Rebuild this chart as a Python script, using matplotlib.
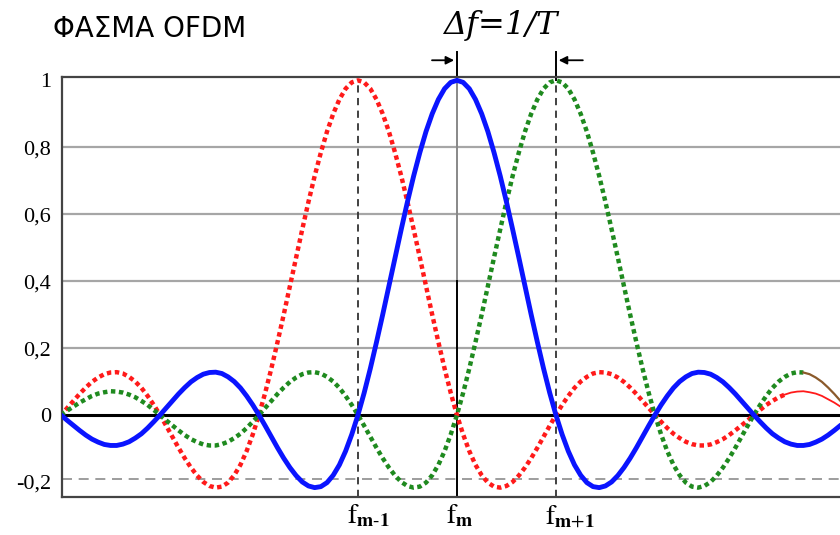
import matplotlib
matplotlib.use("Agg")
import matplotlib.pyplot as plt
import numpy as np

# === DATA ===
# pulse shape of one sub-carrier, sampled every 1/16 of the carrier spacing,
# from the centre outwards (it is symmetric)
pulse_half = [1.000, 0.994, 0.975, 0.943, 0.900, 0.847, 0.784, 0.714,
              0.637, 0.555, 0.471, 0.385, 0.300, 0.218, 0.139, 0.066,
              0.000, -0.058, -0.108, -0.149, -0.180, -0.202, -0.214, -0.217,
              -0.212, -0.200, -0.181, -0.157, -0.129, -0.098, -0.065, -0.032,
              0.000, 0.030, 0.057, 0.081, 0.100, 0.114, 0.124, 0.128,
              0.127, 0.122, 0.112, 0.099, 0.082, 0.063, 0.042, 0.021,
              0.000, -0.020, -0.039, -0.056, -0.069, -0.080, -0.087, -0.091,
              -0.091, -0.088, -0.081, -0.072, -0.060, -0.046, -0.031, -0.016,
              0.000, 0.015, 0.030, 0.042, 0.053, 0.061, 0.067, 0.070,
              0.071, 0.068, 0.064, 0.057, 0.047, 0.037, 0.025, 0.013, 0.000]
pulse = np.array(pulse_half[:0:-1] + pulse_half)
offsets = np.arange(-80, 81) / 16.0

carriers = [-1, 0, 1]          # f(m-1), f(m), f(m+1)
carrier_labels = [r"$\mathrm{f}_{\mathbf{m\text{-}1}}$", r"$\mathrm{f}_{\mathbf{m}}$",
                  r"$\mathrm{f}_{\mathbf{m\text{+}1}}$"]
ytick_vals = [1, 0.8, 0.6, 0.4, 0.2, 0, -0.2]
ytick_labels = ["1", "0,8", "0,6", "0,4", "0,2", "0", "-0,2"]
grid_vals = [0.2, 0.4, 0.6, 0.8]
floor_line = -0.19

plt.rcParams["mathtext.fontset"] = "stix"

fig = plt.figure(figsize=(8.4, 5.35), dpi=100)
ax = fig.add_axes([62 / 840, 38 / 535, 778 / 840, 420 / 535])
ax.set_xlim(-3.99, 3.87)
ax.set_ylim(-0.245, 1.01)

# grid lines
for g in grid_vals:
    ax.axhline(g, color="#a6a6a6", lw=1.6, zorder=1)
ax.axhline(0, color="black", lw=2.2, zorder=2)
ax.axhline(floor_line, color="#8c8c8c", lw=1.2, ls=(0, (6, 4)), zorder=1)

# carrier markers
ax.plot([-1, -1], [-0.245, 1.0], color="#333333", lw=1.3, ls=(0, (4, 3)), zorder=1)
ax.plot([1, 1], [-0.245, 1.0], color="#333333", lw=1.3, ls=(0, (4, 3)), zorder=1)
ax.plot([0, 0], [0.4, 1.0], color="#888888", lw=1.4, zorder=1)
ax.plot([0, 0], [-0.245, 0.4], color="black", lw=1.4, zorder=1)

# sub-carrier curves
x_red = carriers[0] + offsets
x_blue = carriers[1] + offsets
x_green = carriers[2] + offsets
dots = (0, (1, 0.8))

m = x_red <= 3.3125
ax.plot(x_red[m], pulse[m], color="#ff1a1a", lw=3.2, ls=dots, zorder=3)
m = x_red >= 3.3125
ax.plot(x_red[m], pulse[m], color="#ff1a1a", lw=1.3, zorder=3)

m = x_green <= 3.5
ax.plot(x_green[m], pulse[m], color="#1f8a1f", lw=3.2, ls=dots, zorder=3)
m = x_green >= 3.5
ax.plot(x_green[m], pulse[m], color="#8b5a2b", lw=1.6, zorder=3)

ax.plot(x_blue, pulse, color="#0a14ff", lw=3.5, zorder=4, solid_capstyle="round")

# axes frame
ax.spines["right"].set_visible(False)
for side in ["left", "bottom", "top"]:
    ax.spines[side].set_color("#444444")
    ax.spines[side].set_linewidth(1.6)

ax.set_yticks(ytick_vals)
ax.set_yticklabels(ytick_labels, fontsize=16, family="Liberation Serif")
ax.tick_params(axis="y", length=0, pad=8)
ax.set_xticks([])

for c, lab in zip(carriers, carrier_labels):
    ax.annotate(lab, xy=(c, -0.245), xytext=(-8, -3), textcoords="offset points",
                ha="left", va="top", fontsize=20)

# delta f annotation above the plot
ax.plot([0, 0], [1.0, 1.085], color="black", lw=1.4, clip_on=False)
ax.plot([1, 1], [1.0, 1.085], color="black", lw=1.4, clip_on=False)
ax.annotate("", xy=(0, 1.06), xytext=(-0.28, 1.06),
            arrowprops=dict(arrowstyle="-|>", color="black", lw=1.3, mutation_scale=12),
            annotation_clip=False)
ax.annotate("", xy=(1, 1.06), xytext=(1.3, 1.06),
            arrowprops=dict(arrowstyle="-|>", color="black", lw=1.3, mutation_scale=12),
            annotation_clip=False)
fig.text(500 / 840, 1 - 34 / 535, "Δf=1/T", ha="center", va="baseline",
         fontsize=23, family="DejaVu Serif", style="italic")

fig.text(53 / 840, 1 - 37 / 535, "ΦΑΣΜΑ OFDM", ha="left", va="baseline",
         fontsize=20, family="DejaVu Sans")

fig.savefig("out.png", dpi=100)
